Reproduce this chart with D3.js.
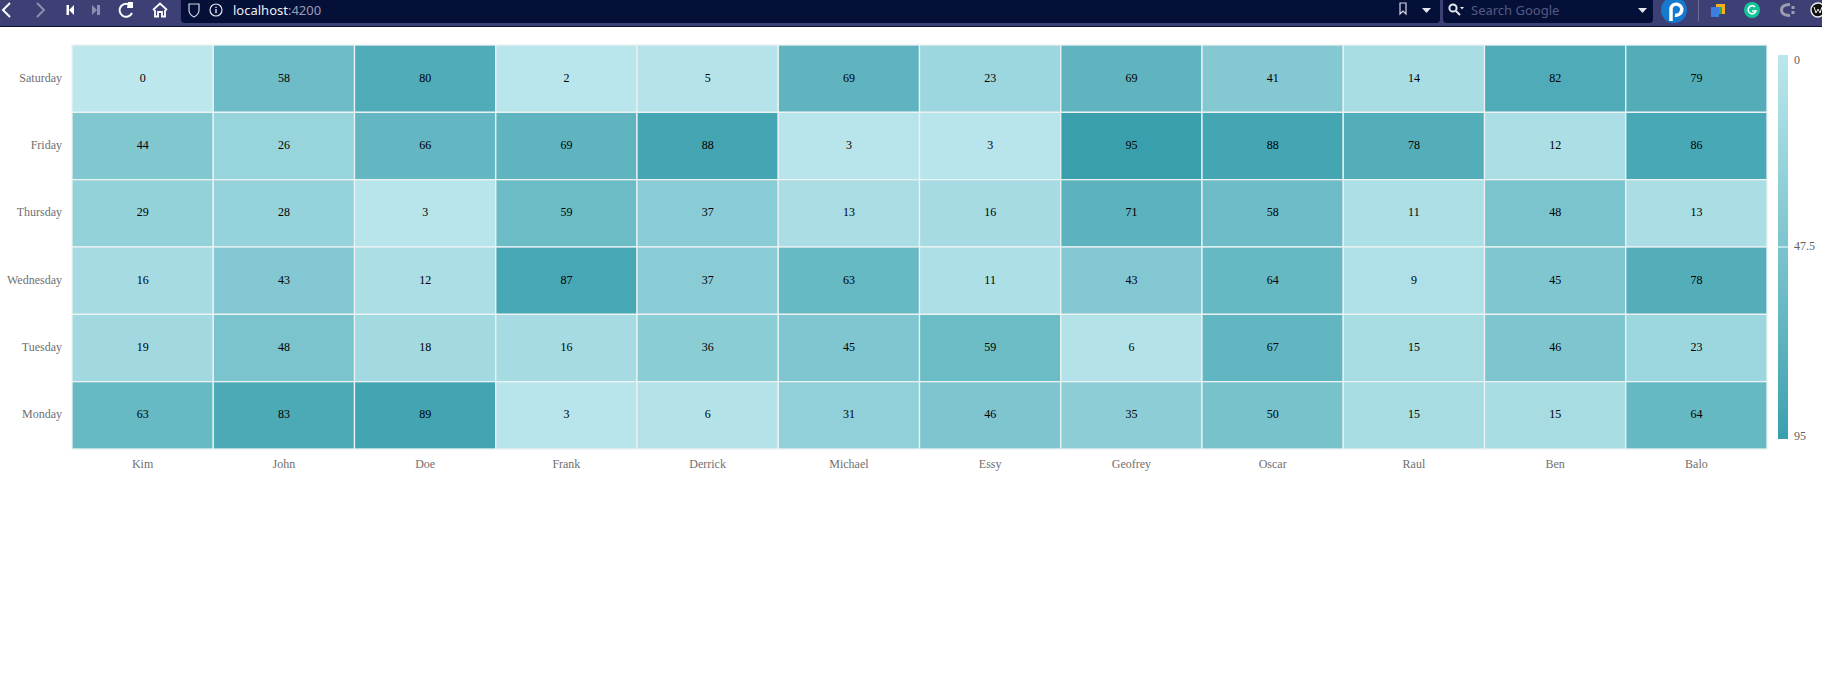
<!DOCTYPE html>
<html>
<head>
<meta charset="utf-8">
<style>
html,body{margin:0;padding:0;background:#fff;overflow:hidden}
svg{display:block}
</style>
<script src="https://cdn.jsdelivr.net/npm/d3@7/dist/d3.min.js"></script>
</head>
<body>
<svg id="c" width="1822" height="684"></svg>
<script>
const days = ["Saturday","Friday","Thursday","Wednesday","Tuesday","Monday"];
const names = ["Kim","John","Doe","Frank","Derrick","Michael","Essy","Geofrey","Oscar","Raul","Ben","Balo"];
const saturday = [0,58,80,2,5,69,23,69,41,14,82,79];
const friday = [44,26,66,69,88,3,3,95,88,78,12,86];
const thursday = [29,28,3,59,37,13,16,71,58,11,48,13];
const wednesday = [16,43,12,87,37,63,11,43,64,9,45,78];
const tuesday = [19,48,18,16,36,45,59,6,67,15,46,23];
const monday = [63,83,89,3,6,31,46,35,50,15,15,64];
const rows = [saturday,friday,thursday,wednesday,tuesday,monday];
const legendTicks = [0,47.5,95];
const colorStops = [0,87,95];
const colorRange = ["#bbe7ed","#47a7b4","#399fad"];

const svg = d3.select("#c");
const serif = "'Liberation Serif','Times New Roman',serif";

/* browser toolbar */
const bar = svg.append("g");
bar.append("rect").attr("width",1822).attr("height",26).attr("fill","#3d4074");
bar.append("rect").attr("y",26).attr("width",1822).attr("height",1).attr("fill","#0c1030");
bar.append("rect").attr("x",181).attr("y",-6).attr("width",1259).attr("height",29).attr("rx",4).attr("fill","#051039");
bar.append("rect").attr("x",1443).attr("y",-6).attr("width",210).attr("height",29).attr("rx",4).attr("fill","#051039");
const stroke = (d,c="#fff",w=2)=>bar.append("path").attr("d",d).attr("fill","none").attr("stroke",c).attr("stroke-width",w);
const fill = (d,c="#fff")=>bar.append("path").attr("d",d).attr("fill",c);
stroke("M10 3 L3 10 L10 17");
stroke("M37 3 L44 10 L37 17","#8d8fb0");
fill("M66.5 5h2.5v10h-2.5zM74 5v10l-5-5z");
fill("M92 5v10l5-5zM97 5h3v10h-3z","#8d8fb0");
stroke("M131 6 A6.5 6.5 0 1 0 132 13");
fill("M128 2h5v6h-6z");
stroke("M153 10 L160 3.5 L167 10 M155 10 V16.5 H158 V12 H162 V16.5 H165 V10","#fff",1.8);
stroke("M189 4 H199 V10 C199 14 196 16 194 17 C192 16 189 14 189 10 Z","#d5d6e5",1.2);
bar.append("circle").attr("cx",216).attr("cy",10).attr("r",6).attr("fill","none").attr("stroke","#e5e5ee").attr("stroke-width",1.2);
fill("M215.3 9h1.4v4.2h-1.4zM215.3 6.8h1.4v1.3h-1.4z","#e5e5ee");
const urlFont = "'Noto Sans','DejaVu Sans',sans-serif";
const urlText = bar.append("text").attr("x",233).attr("y",15).attr("font-family",urlFont).attr("font-size",13);
urlText.append("tspan").attr("fill","#eceef6").text("localhost");
urlText.append("tspan").attr("fill","#9a9db8").text(":4200");
stroke("M1400 3 H1406 V14 L1403 11 L1400 14 Z","#d5d6e5",1.2);
fill("M1422 8h9l-4.5 5z","#e5e5ee");
bar.append("circle").attr("cx",1453).attr("cy",8).attr("r",3.6).attr("fill","none").attr("stroke","#e5e5ee").attr("stroke-width",2);
stroke("M1456 11 L1460 15","#e5e5ee",2);
fill("M1460 7h4l-2 2.4z","#e5e5ee");
bar.append("text").attr("x",1471).attr("y",15).attr("font-family",urlFont).attr("font-size",13).attr("fill","#555a80").text("Search Google");
fill("M1638 8h9l-4.5 5z","#e5e5ee");
bar.append("circle").attr("cx",1674).attr("cy",10).attr("r",13).attr("fill","#1479cf");
stroke("M1671 21 V8 A5.5 5.5 0 1 1 1675 15","#fff",3.5);
bar.append("rect").attr("x",1698).attr("y",0).attr("width",1).attr("height",21).attr("fill","#6a6d96");
bar.append("rect").attr("x",1716).attr("y",4).attr("width",9).attr("height",10).attr("fill","#f2b01e");
bar.append("rect").attr("x",1711).attr("y",7).attr("width",8).attr("height",10).attr("fill","#3b7de0");
bar.append("rect").attr("x",1719).attr("y",7).attr("width",3).attr("height",7).attr("fill","#35a853");
bar.append("circle").attr("cx",1752).attr("cy",10).attr("r",8).attr("fill","#15c39a");
stroke("M1755 7 A4 4 0 1 0 1756 11 H1752","#fff",1.5);
stroke("M1790 4.5 Q1781.5 4.5 1781.5 10 Q1781.5 15.5 1790 15.5","#9c9cae",3);
fill("M1791.5 6h3v3h-3zM1791.5 11h3v3h-3z","#9c9cae");
bar.append("circle").attr("cx",1818).attr("cy",10).attr("r",7).attr("fill","#111").attr("stroke","#eee").attr("stroke-width",1.4);
stroke("M1814 7 L1816 13 L1818 9 L1820 13 L1822 7","#eee",1);

/* heatmap */
const plot = {left:72, right:1767, top:45, bottom:449};
const x = d3.scaleBand().domain(names).range([plot.left,plot.right]);
const y = d3.scaleBand().domain(days).range([plot.top,plot.bottom]);
const color = d3.scaleLinear().domain(colorStops).range(colorRange);

const cells = [];
rows.forEach((r,i)=>r.forEach((v,j)=>cells.push({day:days[i],name:names[j],v})));

const g = svg.append("g");
g.selectAll("rect").data(cells).join("rect")
  .attr("x",d=>x(d.name)).attr("y",d=>y(d.day))
  .attr("width",x.bandwidth()).attr("height",y.bandwidth())
  .attr("fill",d=>color(d.v))
  .attr("stroke","#ecf2f3").attr("stroke-width",1.3);
g.selectAll("text").data(cells).join("text")
  .attr("x",d=>x(d.name)+x.bandwidth()/2).attr("y",d=>y(d.day)+y.bandwidth()/2+3)
  .attr("text-anchor","middle").attr("font-family",serif).attr("font-size",12).attr("fill","#000")
  .text(d=>d.v);

const ax = svg.append("g").attr("transform",`translate(0,${plot.bottom+5})`).call(d3.axisBottom(x).tickSize(0).tickPadding(5));
const ay = svg.append("g").attr("transform",`translate(${plot.left-10},0)`).call(d3.axisLeft(y).tickSize(0).tickPadding(0));
[ax,ay].forEach(a=>{
  a.select(".domain").remove();
  a.selectAll("text").attr("font-family",serif).attr("font-size",12).attr("fill","#6f6f6f");
});
ay.selectAll("text").attr("dy","0.25em");

/* legend */
const defs = svg.append("defs");
const grad = defs.append("linearGradient").attr("id","lg").attr("x1",0).attr("y1",0).attr("x2",0).attr("y2",1);
grad.selectAll("stop").data(colorStops).join("stop")
  .attr("offset",d=>d/colorStops[2]).attr("stop-color",d=>color(d));
const ly = d3.scaleLinear().domain([legendTicks[0],legendTicks[2]]).range([55,439]);
svg.append("rect").attr("x",1778).attr("y",ly(0)).attr("width",10).attr("height",ly(95)-ly(0)).attr("fill","url(#lg)");
svg.append("rect").attr("x",1778).attr("y",ly(47.5)-0.5).attr("width",10).attr("height",1).attr("fill","#fff");
svg.append("g").selectAll("text").data(legendTicks).join("text")
  .attr("x",1794).attr("y",d=>d===0?ly(d)+9:d===95?ly(d)+1:ly(d)+3)
  .attr("font-family",serif).attr("font-size",12).attr("fill","#5f5f5f")
  .text(d=>d);
</script>
</body>
</html>
